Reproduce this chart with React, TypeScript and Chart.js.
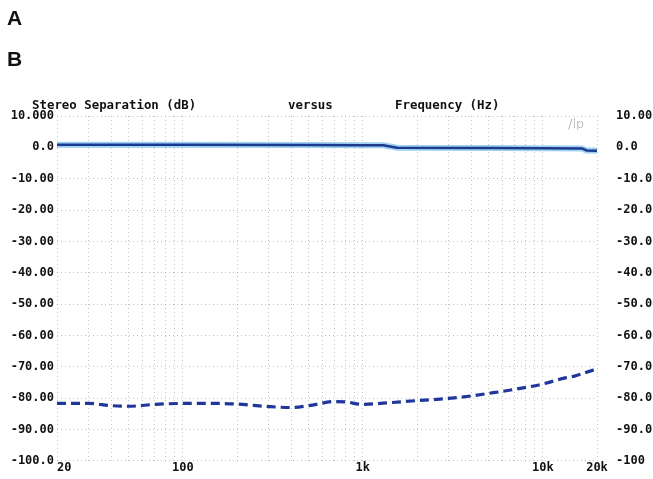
import React, { useEffect, useRef } from "react";
import { Chart, registerables } from "chart.js";

Chart.register(...registerables);

const freqTop = [20, 100, 500, 1000, 1300, 1550, 5000, 10000, 16500, 17500, 20000];
const levelTop = [0.85, 0.8, 0.75, 0.7, 0.65, -0.15, -0.2, -0.25, -0.35, -1.0, -1.05];

const freqSep = [20, 30, 40, 50, 70, 100, 150, 200, 300, 400, 500, 700, 800, 1000, 1300, 2000, 3000, 4000, 5000, 7000, 10000, 13000, 15000, 18500, 20000];
const levelSep = [-81.7, -81.7, -82.4, -82.6, -82.0, -81.7, -81.7, -81.9, -82.7, -83.0, -82.4, -81.1, -81.2, -82.0, -81.6, -80.8, -80.1, -79.3, -78.5, -77.2, -75.5, -73.7, -73.0, -71.3, -70.9];

const gridFreqs = [20, 30, 40, 50, 60, 70, 80, 90, 100, 200, 300, 400, 500, 600, 700, 800, 900, 1000, 2000, 3000, 4000, 5000, 6000, 7000, 8000, 9000, 10000, 20000];
const xLabelMap: Record<number, string> = { 20: "  20", 100: "100", 1000: "1k", 10000: "10k", 20000: "20k" };
const leftLabels: Record<number, string> = { 10: "10.000", 0: "0.0", [-100]: "-100.0" };
const rightLabels: Record<number, string> = { 10: "10.00", 0: "0.0", [-100]: "-100" };

const MONO = "'DejaVu Sans Mono', monospace";

export default function App() {
  const ref = useRef<HTMLCanvasElement>(null);
  useEffect(() => {
    if (!ref.current) return;
    const gridColor = "rgba(120,120,120,0.45)";
    const chart = new Chart(ref.current, {
      type: "line",
      data: {
        datasets: [
          {
            data: freqTop.map((f, i) => ({ x: f, y: levelTop[i] })),
            borderColor: "#1c3a8e",
            borderWidth: 2.5,
            pointRadius: 0,
            tension: 0,
            yAxisID: "y",
          },
          {
            data: freqTop.map((f, i) => ({ x: f, y: levelTop[i] })),
            borderColor: "rgba(150,205,240,0.9)",
            borderWidth: 6,
            pointRadius: 0,
            tension: 0,
            yAxisID: "y",
          },
          {
            data: freqSep.map((f, i) => ({ x: f, y: levelSep[i] })),
            borderColor: "#1f369a",
            borderWidth: 3.2,
            borderDash: [9, 5],
            pointRadius: 0,
            cubicInterpolationMode: "monotone",
            yAxisID: "y",
          },
        ],
      },
      options: {
        responsive: false,
        animation: false,
        layout: { padding: { top: 116, left: 0, right: 0, bottom: 0 } },
        plugins: { legend: { display: false }, tooltip: { enabled: false } },
        scales: {
          x: {
            type: "logarithmic",
            min: 20,
            max: 20000,
            afterBuildTicks: (s: any) => {
              s.ticks = gridFreqs.map((v) => ({ value: v }));
            },
            afterFit: (s: any) => {
              s.height = 14;
            },
            border: { display: false, dash: [1, 3] } as any,
            grid: { color: gridColor, lineWidth: 1, drawTicks: false } as any,
            ticks: {
              autoSkip: false,
              maxRotation: 0,
              padding: 0,
              color: "#111",
              font: { family: MONO, size: 12, weight: "bold" },
              callback: (v: any) => xLabelMap[Number(v)] ?? "",
            },
          },
          y: {
            position: "left",
            min: -100,
            max: 10,
            afterFit: (s: any) => {
              s.width = 57;
            },
            border: { display: false, dash: [1, 3] } as any,
            grid: { color: gridColor, lineWidth: 1, drawTicks: false } as any,
            ticks: {
              stepSize: 10,
              padding: 3,
              color: "#111",
              font: { family: MONO, size: 12, weight: "bold" },
              callback: (v: any) => leftLabels[Number(v)] ?? `${Number(v).toFixed(2)}`,
            },
          },
          y2: {
            position: "right",
            min: -100,
            max: 10,
            afterFit: (s: any) => {
              s.width = 56;
            },
            border: { display: false },
            grid: { display: false },
            ticks: {
              stepSize: 10,
              padding: 11,
              color: "#111",
              font: { family: MONO, size: 12, weight: "bold" },
              callback: (v: any) => rightLabels[Number(v)] ?? `${Number(v).toFixed(1)}`,
            },
          },
        },
      },
    } as any);
    return () => chart.destroy();
  }, []);

  const head: React.CSSProperties = {
    position: "absolute",
    fontFamily: MONO,
    fontWeight: "bold",
    fontSize: 12.4,
    color: "#111",
    top: 97,
    whiteSpace: "pre",
  };
  const letter: React.CSSProperties = {
    position: "absolute",
    left: 7,
    fontFamily: "'Liberation Sans', Arial, sans-serif",
    fontWeight: "bold",
    fontSize: 21,
    color: "#111",
  };

  return (
    <div style={{ position: "fixed", left: 0, top: 0, width: 653, height: 479, background: "#fff" }}>
      <canvas ref={ref} width={653} height={479} style={{ position: "absolute", left: 0, top: 0 }} />
      <div style={{ ...letter, top: 6 }}>A</div>
      <div style={{ ...letter, top: 47 }}>B</div>
      <div style={{ ...head, left: 32 }}>Stereo Separation (dB)</div>
      <div style={{ ...head, left: 288 }}>versus</div>
      <div style={{ ...head, left: 395 }}>Frequency (Hz)</div>
      <div
        style={{
          position: "absolute",
          left: 568,
          top: 116,
          fontFamily: "'DejaVu Sans', sans-serif",
          fontSize: 13,
          color: "#999",
          fontWeight: 300,
        }}
      >
        /lp
      </div>
    </div>
  );
}
